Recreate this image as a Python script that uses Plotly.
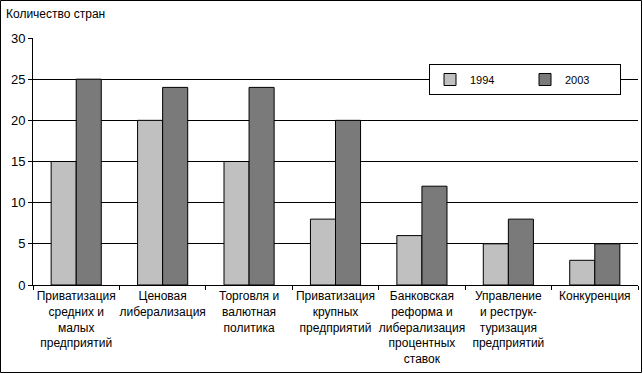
import plotly.graph_objects as go

categories = [
    "Приватизация<br>средних и<br>малых<br>предприятий",
    "Ценовая<br>либерализация",
    "Торговля и<br>валютная<br>политика",
    "Приватизация<br>крупных<br>предприятий",
    "Банковская<br>реформа и<br>либерализация<br>процентных<br>ставок",
    "Управление<br>и реструк-<br>туризация<br>предприятий",
    "Конкуренция",
]
values_1994 = [15, 20, 15, 8, 6, 5, 3]
values_2003 = [25, 24, 24, 20, 12, 8, 5]
y_ticks = [0, 5, 10, 15, 20, 25, 30]

W, H = 643, 374
L, R, T, B = 33, 5, 38, 89
pw = W - L - R
ph = H - T - B

fig = go.Figure()
fig.add_trace(go.Bar(name="1994", x=categories, y=values_1994,
                     marker=dict(color="#c0c0c0", line=dict(color="#000000", width=1))))
fig.add_trace(go.Bar(name="2003", x=categories, y=values_2003,
                     marker=dict(color="#7a7a7a", line=dict(color="#000000", width=1))))

fig.update_layout(
    width=W, height=H,
    margin=dict(l=L, r=R, t=T, b=B, autoexpand=False),
    paper_bgcolor="white", plot_bgcolor="white",
    font=dict(family="Liberation Sans, Arial, sans-serif", size=12, color="#000000"),
    barmode="group", bargap=0.42, bargroupgap=0,
    showlegend=True,
    legend=dict(orientation="h", x=(429 - L) / pw, y=(H - B - 64) / ph,
                xanchor="left", yanchor="top",
                bgcolor="white", bordercolor="#000000", borderwidth=1,
                entrywidth=50, font=dict(size=11),
                itemclick=False, itemdoubleclick=False),
    xaxis=dict(showline=True, linecolor="#000000", linewidth=1,
               ticks="outside", ticklen=4, tickcolor="#000000",
               tickson="boundaries", showgrid=False, tickangle=0,
               automargin=False),
    yaxis=dict(range=[0, 30], tickvals=y_ticks, showline=True, linecolor="#000000",
               linewidth=1, ticks="outside", ticklen=4, tickcolor="#000000",
               showgrid=True, gridcolor="#000000", gridwidth=1,
               zeroline=False, automargin=False, tickfont=dict(size=13)),
    annotations=[dict(text="Количество стран", xref="paper", yref="paper",
                      x=-(L - 4) / pw, y=1 + (T - 14) / ph, xanchor="left",
                      yanchor="middle", showarrow=False, font=dict(size=12))],
    shapes=[dict(type="rect", xref="paper", yref="paper",
                 x0=-(L - 0.5) / pw, x1=1 + (R - 1.5) / pw,
                 y0=-(B - 1.5) / ph, y1=1 + (T - 0.5) / ph,
                 line=dict(color="#000000", width=1), layer="above")],
)

fig.write_html("out.html", config={"displayModeBar": False},
               post_script="document.body.style.margin='0';")
